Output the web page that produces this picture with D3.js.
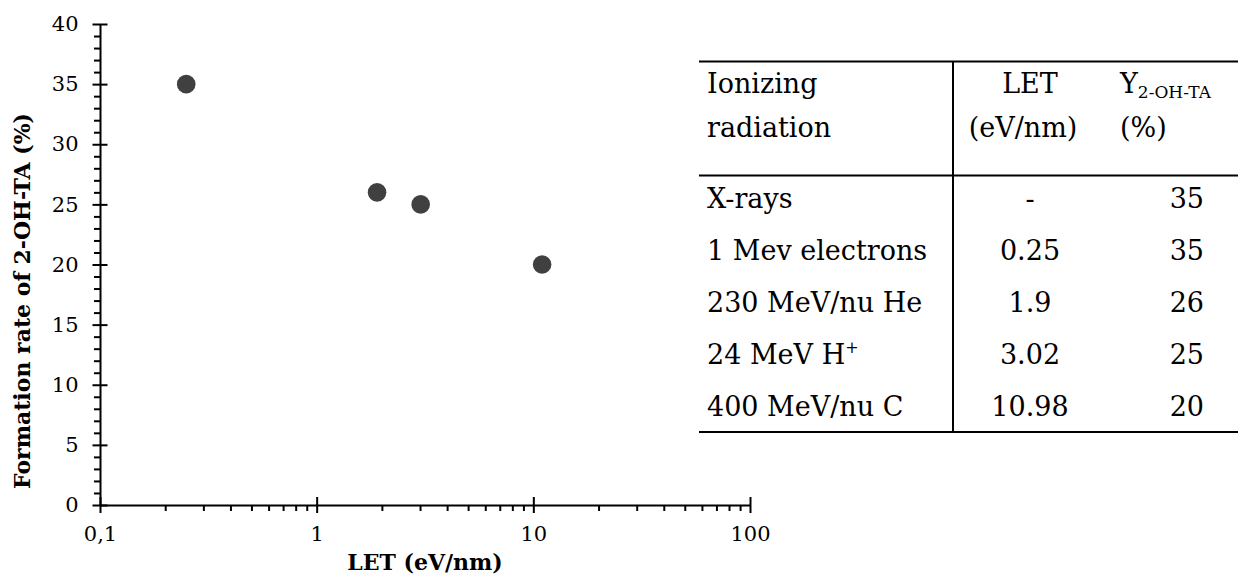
<!DOCTYPE html>
<html>
<head>
<meta charset="utf-8">
<script src="https://cdn.jsdelivr.net/npm/d3@7"></script>
<style>
  html, body { margin: 0; padding: 0; background: #fff; }
  svg { display: block; }
  text { font-family: "DejaVu Serif", "Liberation Serif", serif; fill: #000; }
</style>
</head>
<body>
<svg id="chart" width="1258" height="579"></svg>
<script>
// ---------- data ----------
const radiation   = ["X-rays", "1 Mev electrons", "230 MeV/nu He", "24 MeV H", "400 MeV/nu C"];
const radiationSup = ["", "", "", "+", ""];
const letValues   = [null, 0.25, 1.9, 3.02, 10.98];
const letLabels   = ["-", "0.25", "1.9", "3.02", "10.98"];
const yieldValues = [35, 35, 26, 25, 20];

const xTickValues = [0.1, 1, 10, 100];
const xTickLabels = ["0,1", "1", "10", "100"];
const yTickValues = [0, 5, 10, 15, 20, 25, 30, 35, 40];
const xTitle = "LET (eV/nm)";
const yTitle = "Formation rate of 2-OH-TA (%)";
const headers = { col1: ["Ionizing", "radiation"], col2: ["LET", "(eV/nm)"], col3main: "Y", col3sub: "2-OH-TA", col3unit: "(%)" };

// ---------- layout ----------
const svg = d3.select("#chart");
const x = d3.scaleLog().domain([0.1, 100]).range([100, 750]);
const y = d3.scaleLinear().domain([0, 40]).range([505, 24]);
const x0 = 100, y0 = 505;

// minor ticks
const xMinor = [];
[0.1, 1, 10].forEach(d => { for (let k = 2; k <= 9; k++) xMinor.push(+(d * k).toPrecision(3)); });
const yMinor = d3.range(0, 41, 1).filter(v => v % 5 !== 0);

const gx = svg.append("g").attr("transform", `translate(0,${y0})`);
gx.call(d3.axisBottom(x).tickValues(xMinor).tickSize(6).tickFormat(""))
  .call(g => g.select(".domain").remove());
gx.append("g").call(d3.axisBottom(x).tickValues(xTickValues).tickSizeInner(8).tickSizeOuter(0).tickPadding(13)
    .tickFormat((d, i) => xTickLabels[i]))
  .call(g => g.selectAll("text").attr("font-size", 21).attr("font-family", "DejaVu Serif").attr("fill", "#000"))
  .call(g => g.selectAll(".tick line").clone().attr("y2", -8));
gx.selectAll("line, path").attr("stroke", "#000").attr("stroke-width", 2);

const gy = svg.append("g").attr("transform", `translate(${x0},0)`);
gy.call(d3.axisLeft(y).tickValues(yMinor).tickSize(6).tickFormat(""))
  .call(g => g.select(".domain").remove());
gy.append("g").call(d3.axisLeft(y).tickValues(yTickValues).tickSizeInner(7.5).tickSizeOuter(0).tickPadding(14))
  .call(g => g.selectAll("text").attr("font-size", 21).attr("font-family", "DejaVu Serif").attr("fill", "#000"))
  .call(g => g.selectAll(".tick line").clone().attr("x2", 7.5));
gy.selectAll("line, path").attr("stroke", "#000").attr("stroke-width", 2);

// axis titles
svg.append("text").attr("x", 425).attr("y", 570).attr("text-anchor", "middle")
  .attr("font-size", 22).attr("font-weight", "bold").text(xTitle);
svg.append("text").attr("transform", "translate(22,301) rotate(-90)").attr("dy", "0.35em")
  .attr("text-anchor", "middle").attr("font-size", 22).attr("font-weight", "bold").text(yTitle);

// points
const pts = letValues.map((v, i) => ({ x: v, y: yieldValues[i] })).filter(d => d.x !== null);
svg.append("g").selectAll("circle").data(pts).join("circle")
  .attr("cx", d => x(d.x)).attr("cy", d => y(d.y)).attr("r", 9.3).attr("fill", "#404040");

// ---------- table ----------
const t = svg.append("g");
const tLeft = 699, tRight = 1238, tTop = 61.5, tHead = 175.5, tBottom = 432, tVert = 953;
const lineAttr = sel => sel.attr("stroke", "#000").attr("stroke-width", 2);
t.append("line").attr("x1", tLeft).attr("x2", tRight).attr("y1", tTop).attr("y2", tTop).call(lineAttr);
t.append("line").attr("x1", tLeft).attr("x2", tRight).attr("y1", tHead).attr("y2", tHead).call(lineAttr);
t.append("line").attr("x1", tLeft).attr("x2", tRight).attr("y1", tBottom).attr("y2", tBottom).call(lineAttr);
t.append("line").attr("x1", tVert).attr("x2", tVert).attr("y1", tTop).attr("y2", tBottom).call(lineAttr);

const fs = 27;
const col1x = 707, col2x = 1030, col3x = 1120, col3r = 1204;
const hb1 = 93, hb2 = 137;
t.append("text").attr("x", col1x).attr("y", hb1).attr("font-size", fs).text(headers.col1[0]);
t.append("text").attr("x", col1x).attr("y", hb2).attr("font-size", fs).text(headers.col1[1]);
t.append("text").attr("x", col2x).attr("y", hb1).attr("font-size", fs).attr("text-anchor", "middle").text(headers.col2[0]);
t.append("text").attr("x", col2x - 7).attr("y", hb2).attr("font-size", fs).attr("text-anchor", "middle").text(headers.col2[1]);
const yh = t.append("text").attr("x", col3x).attr("y", hb1).attr("font-size", fs);
yh.append("tspan").text(headers.col3main);
yh.append("tspan").attr("font-size", 17).attr("dy", 5).text(headers.col3sub);
t.append("text").attr("x", col3x).attr("y", hb2).attr("font-size", fs).text(headers.col3unit);

const rowY = d3.scaleLinear().domain([0, radiation.length - 1]).range([207.5, 415.5]);
radiation.forEach((r, i) => {
  const tx = t.append("text").attr("x", col1x).attr("y", rowY(i)).attr("font-size", fs);
  tx.append("tspan").text(r);
  if (radiationSup[i]) tx.append("tspan").attr("font-size", 16).attr("dy", -11).text(radiationSup[i]);
  t.append("text").attr("x", col2x).attr("y", rowY(i)).attr("font-size", fs).attr("text-anchor", "middle").text(letLabels[i]);
  t.append("text").attr("x", col3r).attr("y", rowY(i)).attr("font-size", fs).attr("text-anchor", "end").text(yieldValues[i]);
});
</script>
</body>
</html>
